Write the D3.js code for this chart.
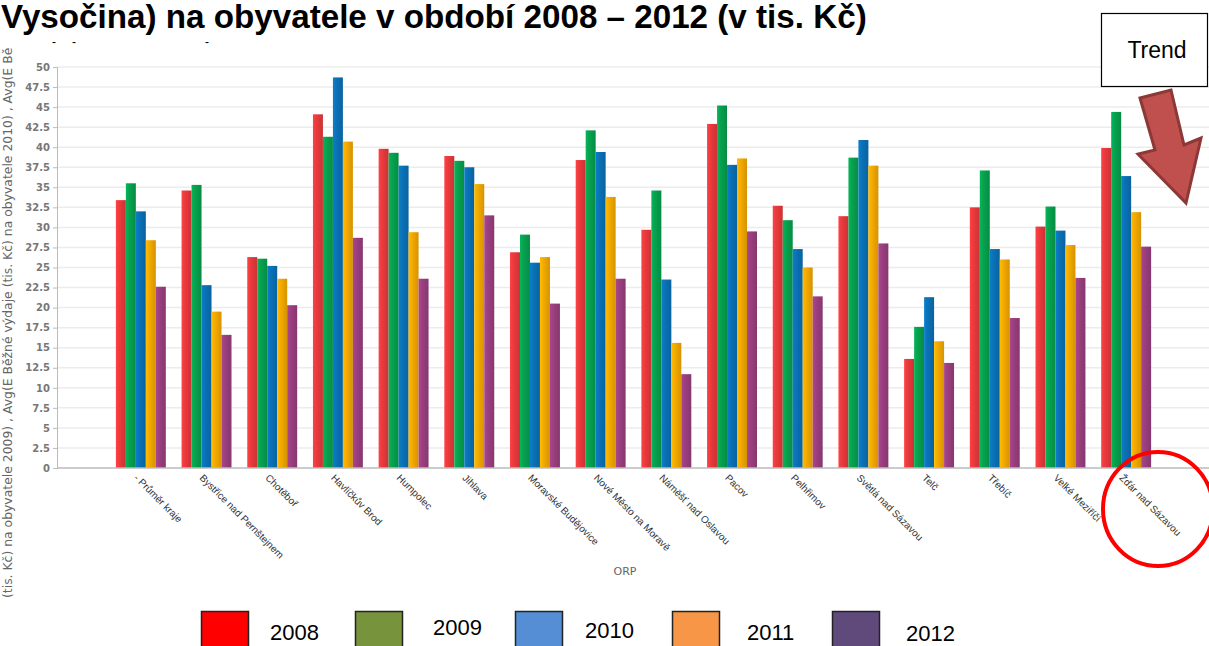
<!DOCTYPE html>
<html>
  <head>
    <meta charset='utf-8'>
    <title>ORP - výdaje na obyvatele</title>
    <script src='https://d3js.org/d3.v7.min.js'></script>
    <style type='text/css' media='screen'>
      body, html {
        margin: 0;
        padding: 0;
        background: #fff;
        overflow: hidden;
      }
      svg {
        display: block;
      }
    </style>
  </head>
  <body>
    <svg width='1209' height='646'></svg>

    <script type='text/javascript'>
      var categories = [
        '- Průměr kraje', 'Bystřice nad Pernštejnem', 'Chotěboř', 'Havlíčkův Brod',
        'Humpolec', 'Jihlava', 'Moravské Budějovice', 'Nové Město na Moravě',
        'Náměšť nad Oslavou', 'Pacov', 'Pelhřimov', 'Světlá nad Sázavou',
        'Telč', 'Třebíč', 'Velké Meziříčí', 'Žďár nad Sázavou'
      ]
      var years = ['2008', '2009', '2010', '2011', '2012']

      var v2008 = [33.4, 34.6, 26.3, 44.1, 39.8, 38.9, 26.9, 38.4, 29.7, 42.9, 32.7, 31.4, 13.6, 32.5, 30.1, 39.9]
      var v2009 = [35.5, 35.3, 26.1, 41.3, 39.3, 38.3, 29.1, 42.1, 34.6, 45.2, 30.9, 38.7, 17.6, 37.1, 32.6, 44.4]
      var v2010 = [32.0, 22.8, 25.2, 48.7, 37.7, 37.5, 25.6, 39.4, 23.5, 37.8, 27.3, 40.9, 21.3, 27.3, 29.6, 36.4]
      var v2011 = [28.4, 19.5, 23.6, 40.7, 29.4, 35.4, 26.3, 33.8, 15.6, 38.6, 25.0, 37.7, 15.8, 26.0, 27.8, 31.9]
      var v2012 = [22.6, 16.6, 20.3, 28.7, 23.6, 31.5, 20.5, 23.6, 11.7, 29.5, 21.4, 28.0, 13.1, 18.7, 23.7, 27.6]

      var yTicks = [0, 2.5, 5, 7.5, 10, 12.5, 15, 17.5, 20, 22.5, 25, 27.5, 30, 32.5, 35, 37.5, 40, 42.5, 45, 47.5, 50]

      var barColors = ['#ea3a3d', '#07a24f', '#0a72b7', '#f4aa00', '#9b3f80']
      var legendColors = ['#ff0000', '#77933c', '#558ed5', '#f79646', '#604a7b']

      var series = [v2008, v2009, v2010, v2011, v2012]

      var svg = d3.select('svg')
      var defs = svg.append('defs')

      // horizontal shading on the bars
      barColors.forEach(function(c, i) {
        var g = defs.append('linearGradient')
          .attr('id', 'bar-' + i)
          .attr('x1', '0%').attr('x2', '100%')
          .attr('y1', '0%').attr('y2', '0%')
        g.append('stop').attr('offset', '0%').attr('stop-color', d3.color(c).brighter(0.3))
        g.append('stop').attr('offset', '35%').attr('stop-color', c)
        g.append('stop').attr('offset', '100%').attr('stop-color', d3.color(c).darker(0.4))
      })

      var plotLeft = 57, plotRight = 1209

      var x = d3.scaleBand()
        .domain(categories)
        .range([108, 1159])
        .paddingInner(0.24)
        .paddingOuter(0.12)

      var xSub = d3.scaleBand()
        .domain(years)
        .range([0, x.bandwidth()])

      var y = d3.scaleLinear()
        .domain([0, 50])
        .range([468, 67])

      // gridlines
      svg.append('g')
        .selectAll('line')
        .data(yTicks.slice(1))
        .enter().append('line')
          .attr('x1', plotLeft)
          .attr('x2', plotRight)
          .attr('y1', function(d) { return y(d) })
          .attr('y2', function(d) { return y(d) })
          .attr('stroke', '#ececec')
          .attr('stroke-width', 1.5)

      // y axis
      var yAxis = svg.append('g')
        .attr('transform', 'translate(' + plotLeft + ',0)')
        .call(d3.axisLeft(y).tickValues(yTicks).tickSize(4).tickPadding(3).tickFormat(function(d) { return String(d) }))
      yAxis.select('.domain').attr('stroke', '#bbb')
      yAxis.selectAll('.tick line').attr('stroke', '#bbb')
      yAxis.selectAll('text')
        .attr('fill', '#777')
        .style('font-family', 'DejaVu Sans, sans-serif')
        .style('font-size', '10px')
        .style('font-weight', 'bold')

      // bars
      var groups = svg.append('g')
        .selectAll('g')
        .data(categories)
        .enter().append('g')
          .attr('transform', function(d) { return 'translate(' + x(d) + ',0)' })

      groups.selectAll('rect')
        .data(function(d, i) {
          return years.map(function(yr, j) { return {year: yr, idx: j, value: series[j][i]} })
        })
        .enter().append('rect')
          .attr('x', function(d) { return xSub(d.year) })
          .attr('width', xSub.bandwidth())
          .attr('y', function(d) { return y(d.value) })
          .attr('height', function(d) { return y(0) - y(d.value) })
          .attr('fill', function(d) { return 'url(#bar-' + d.idx + ')' })

      // x axis line
      svg.append('line')
        .attr('x1', plotLeft).attr('x2', plotRight)
        .attr('y1', y(0)).attr('y2', y(0))
        .attr('stroke', '#bbb')
        .attr('stroke-width', 1.5)

      // category labels
      svg.append('g')
        .selectAll('text')
        .data(categories)
        .enter().append('text')
          .attr('transform', function(d) {
            return 'translate(' + (x(d) + x.bandwidth() / 2 - 5) + ',476) rotate(45)'
          })
          .attr('dy', '0.35em')
          .attr('fill', '#333')
          .style('font-family', 'Liberation Sans, Arial, sans-serif')
          .style('font-size', '10px')
          .text(function(d) { return d })

      svg.append('text')
        .attr('x', 625).attr('y', 575)
        .attr('text-anchor', 'middle')
        .attr('fill', '#666')
        .style('font-family', 'DejaVu Sans, sans-serif')
        .style('font-size', '11px')
        .text('ORP')

      // y axis title, as far as the original shows it
      svg.append('text')
        .attr('transform', 'translate(12,598) rotate(-90)')
        .attr('fill', '#666')
        .style('font-family', 'DejaVu Sans, sans-serif')
        .style('font-size', '12.4px')
        .text('(tis. Kč) na obyvatele 2009) , Avg(E Běžné výdaje (tis. Kč) na obyvatele 2010) , Avg(E Bě')

      var title = svg.append('text')
        .attr('x', 1).attr('y', 28)
        .attr('fill', '#000')
        .style('font-family', 'Liberation Sans, Arial, sans-serif')
        .style('font-weight', 'bold')
        .style('font-size', '24px')
        .text('Vysočina) na obyvatele v období 2008 – 2012 (v tis. Kč)')
      var tw = title.node().getComputedTextLength()
      title.style('font-size', (24 * 866 / tw) + 'px')

      svg.selectAll('.dash')
        .data([52, 72, 205])
        .enter().append('text')
          .attr('x', function(d) { return d }).attr('y', 46)
          .style('font-family', 'Liberation Sans, Arial, sans-serif')
          .style('font-size', '12px')
          .text('-')

      // Trend box + arrow
      svg.append('rect')
        .attr('x', 1101.5).attr('y', 13.5)
        .attr('width', 106).attr('height', 73)
        .attr('fill', '#fff').attr('stroke', '#000').attr('stroke-width', 1.2)
      svg.append('text')
        .attr('x', 1157).attr('y', 58)
        .attr('text-anchor', 'middle')
        .style('font-family', 'Liberation Sans, Arial, sans-serif')
        .style('font-size', '23px')
        .text('Trend')

      var arrow = [[1140, 98], [1171, 90], [1184, 145], [1201, 138], [1186, 203], [1138, 154], [1155, 150]]
      svg.append('path')
        .attr('d', d3.line()(arrow) + 'Z')
        .attr('fill', '#c0504d')
        .attr('stroke', '#8c3836')
        .attr('stroke-width', 3)
        .attr('stroke-linejoin', 'miter')

      // red circle
      svg.append('ellipse')
        .attr('cx', 1158).attr('cy', 509)
        .attr('rx', 55).attr('ry', 57)
        .attr('fill', 'none')
        .attr('stroke', '#ff0000')
        .attr('stroke-width', 4)

      // legend
      var legendBoxes = [201, 355, 515, 672, 832]
      var legendText = [[270, 640], [433, 635], [585, 638], [747, 640], [906, 641]]
      var legend = svg.append('g')
      years.forEach(function(yr, i) {
        legend.append('rect')
          .attr('x', legendBoxes[i] + 0.5).attr('y', 611.5)
          .attr('width', 47).attr('height', 40)
          .attr('fill', legendColors[i])
          .attr('stroke', '#222')
          .attr('stroke-width', 1.5)
        legend.append('text')
          .attr('x', legendText[i][0]).attr('y', legendText[i][1])
          .style('font-family', 'Liberation Sans, Arial, sans-serif')
          .style('font-size', '22px')
          .text(yr)
      })
    </script>
  </body>
</html>
